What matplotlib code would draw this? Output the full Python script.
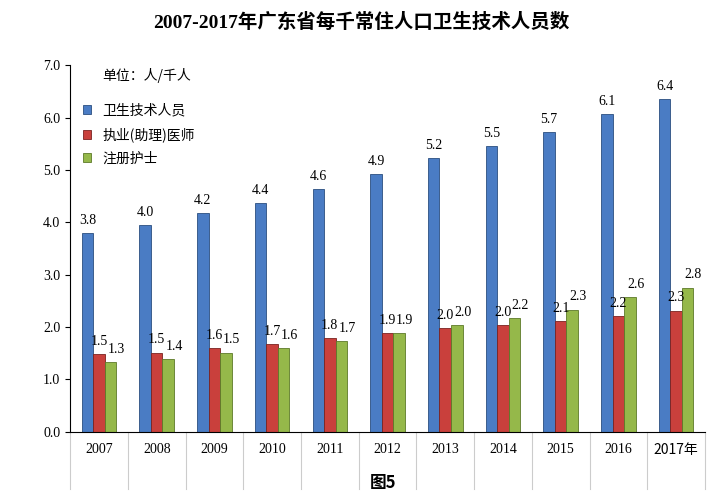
import matplotlib
matplotlib.use("Agg")
import matplotlib.pyplot as plt
import numpy as np

years = ["2007","2008","2009","2010","2011","2012","2013","2014","2015","2016","2017年"]
tech = [3.8,3.95,4.17,4.36,4.63,4.92,5.22,5.45,5.72,6.07,6.36]
tech_lbl = ["3.8","4.0","4.2","4.4","4.6","4.9","5.2","5.5","5.7","6.1","6.4"]
doc = [1.48,1.51,1.6,1.67,1.78,1.88,1.98,2.03,2.11,2.21,2.31]
doc_lbl = ["1.5","1.5","1.6","1.7","1.8","1.9","2.0","2.0","2.1","2.2","2.3"]
nurse = [1.33,1.39,1.51,1.6,1.73,1.88,2.04,2.17,2.33,2.57,2.75]
nurse_lbl = ["1.3","1.4","1.5","1.6","1.7","1.9","2.0","2.2","2.3","2.6","2.8"]
series = ["卫生技术人员","执业(助理)医师","注册护士"]

plt.rcParams["font.family"] = ["Noto Sans CJK SC"]
fig = plt.figure(figsize=(7.23,4.95), dpi=100)
ax = fig.add_axes([0.097, 0.128, 0.878, 0.74])
x = np.arange(len(years))
w = 0.2
cols = ["#4a7cc4", "#c9403c", "#95b84a"]
ax.bar(x-w, tech, w, color=cols[0], edgecolor="#2b4f80", linewidth=0.6, label=series[0])
ax.bar(x, doc, w, color=cols[1], edgecolor="#7a2220", linewidth=0.6, label=series[1])
ax.bar(x+w, nurse, w, color=cols[2], edgecolor="#5d7a28", linewidth=0.6, label=series[2])
serif = "Liberation Serif"
for i in x:
    ax.text(i-w, tech[i]+0.12, tech_lbl[i], ha="center", va="bottom", fontsize=10, family=serif)
    ax.text(i, doc[i]+0.12, doc_lbl[i], ha="center", va="bottom", fontsize=10, family=serif)
    ax.text(i+w+0.1, nurse[i]+0.12, nurse_lbl[i], ha="center", va="bottom", fontsize=10, family=serif)
ax.set_xlim(-0.5, len(years)-0.5)
ax.set_ylim(0, 7)
ax.set_yticks(np.arange(0, 7.01, 1))
ax.set_yticklabels([f"{v:.1f}" for v in np.arange(0, 7.01, 1)], family=serif, fontsize=10)
ax.set_xticks(x)
ax.set_xticklabels(years, fontsize=10)
for t in ax.get_xticklabels()[:-1]:
    t.set_family(serif)
ax.tick_params(axis="x", length=0, pad=8)
for s in ["top", "right"]:
    ax.spines[s].set_visible(False)
for b in np.arange(-0.5, len(years), 1):
    ax.plot([b, b], [0, -1.1], color="#cccccc", lw=0.8, clip_on=False)
ax.text(0.05, 6.8, "单位：人/千人", fontsize=10, va="center")
ax.legend(loc="upper left", bbox_to_anchor=(0.0, 0.93), frameon=False, fontsize=10,
          handlelength=0.6, handleheight=0.6, labelspacing=0.7)
fig.text(0.5, 0.955, "2007-2017年广东省每千常住人口卫生技术人员数", ha="center", va="center",
         fontsize=14, fontweight="bold", family=["Liberation Serif", "Noto Sans CJK SC"])
fig.text(0.53, 0.025, "图5", ha="center", va="center", fontsize=12, fontweight="bold")
fig.savefig("out.png", dpi=100)
